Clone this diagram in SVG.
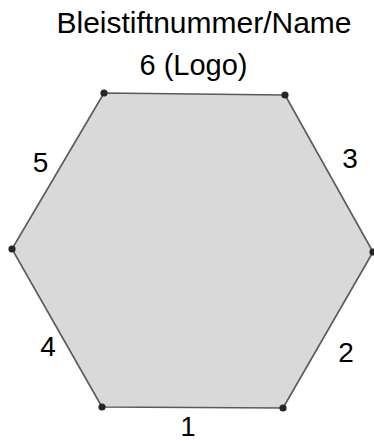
<svg xmlns="http://www.w3.org/2000/svg" width="374" height="441" viewBox="0 0 374 441">
<style>
.t{font-family:"Liberation Sans",Arial,sans-serif;fill:#000;text-anchor:middle}
.v{fill:#262626}
</style>
<rect width="374" height="441" fill="#fff"/>
<text class="t" x="204" y="33" font-size="30">Bleistiftnummer/Name</text>
<text class="t" x="193.5" y="75" font-size="29">6 (Logo)</text>
<g id="hexagon">
<polygon points="104,93 285,95 373,252 283,408 102,407 12,249" fill="#d9d9d9" stroke="#5a5a5a" stroke-width="1.6" stroke-linejoin="round"/>
</g>
<g id="vertices">
<circle class="v" cx="104" cy="93" r="3.6"/>
<circle class="v" cx="285" cy="95" r="3.6"/>
<circle class="v" cx="373" cy="252" r="3.6"/>
<circle class="v" cx="283" cy="408" r="3.6"/>
<circle class="v" cx="102" cy="407" r="3.6"/>
<circle class="v" cx="12" cy="249" r="3.6"/>
</g>
<g id="labels">
<text class="t" x="40.5" y="172" font-size="28">5</text>
<text class="t" x="350" y="168" font-size="28">3</text>
<text class="t" x="48" y="356" font-size="28">4</text>
<text class="t" x="346" y="362" font-size="28">2</text>
<text class="t" x="188" y="436" font-size="27">1</text>
</g>
</svg>
